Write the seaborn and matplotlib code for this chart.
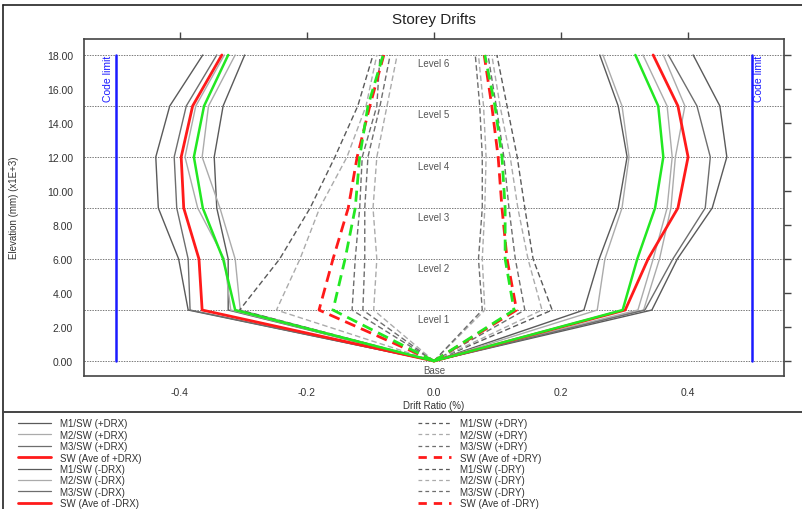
import matplotlib
matplotlib.use("Agg")
import matplotlib.pyplot as plt
from matplotlib.lines import Line2D
import seaborn as sns
import pandas as pd

sns.set_style("white")
plt.rcParams['font.family'] = ['Liberation Sans', 'DejaVu Sans']

# ---------------- data ----------------
elevation = [0, 3, 6, 9, 12, 15, 18]          # x1E+3 mm
level_labels = ["Base", "Level 1", "Level 2", "Level 3", "Level 4", "Level 5", "Level 6"]
xticks = [-0.4, -0.2, 0.0, 0.2, 0.4]
yticks = [0, 2, 4, 6, 8, 10, 12, 14, 16, 18]
code_limit = 0.5

# +DRX (solid, right side)
m1_pdrx = [0, 0.343, 0.383, 0.438, 0.461, 0.450, 0.408]
m2_pdrx = [0, 0.321, 0.345, 0.367, 0.375, 0.367, 0.329]
m3_pdrx = [0, 0.332, 0.376, 0.427, 0.435, 0.414, 0.369]
ave_pdrx = [0, 0.301, 0.337, 0.384, 0.400, 0.384, 0.345]
# -DRX (solid, left side)
m1_ndrx = [0, -0.387, -0.402, -0.434, -0.438, -0.416, -0.364]
m2_ndrx = [0, -0.305, -0.313, -0.337, -0.365, -0.355, -0.313]
m3_ndrx = [0, -0.384, -0.387, -0.405, -0.409, -0.390, -0.342]
ave_ndrx = [0, -0.365, -0.370, -0.394, -0.398, -0.380, -0.334]
# +DRY (dashed, right of centre)
m1_pdry = [0, 0.186, 0.156, 0.143, 0.131, 0.115, 0.099]
m2_pdry = [0, 0.170, 0.148, 0.132, 0.120, 0.104, 0.091]
m3_pdry = [0, 0.076, 0.070, 0.076, 0.076, 0.072, 0.065]
ave_pdry = [0, 0.130, 0.115, 0.107, 0.101, 0.091, 0.079]
# -DRY (dashed, left of centre)
m1_ndry = [0, -0.306, -0.243, -0.195, -0.156, -0.120, -0.096]
m2_ndry = [0, -0.248, -0.211, -0.180, -0.137, -0.107, -0.090]
m3_ndry = [0, -0.129, -0.124, -0.117, -0.113, -0.090, -0.085]
ave_ndry = [0, -0.181, -0.159, -0.135, -0.121, -0.101, -0.079]

# other (unlabelled) profiles
oth_pdrx_a = [0, 0.236, 0.260, 0.290, 0.304, 0.290, 0.261]
oth_pdrx_b = [0, 0.257, 0.269, 0.296, 0.307, 0.296, 0.266]
oth_pdrx_c = [0, 0.330, 0.355, 0.373, 0.380, 0.395, 0.361]
grn_pdrx = [0, 0.297, 0.320, 0.348, 0.361, 0.353, 0.317]
oth_ndrx_a = [0, -0.324, -0.324, -0.342, -0.346, -0.332, -0.298]
oth_ndrx_b = [0, -0.320, -0.330, -0.372, -0.392, -0.375, -0.330]
grn_ndrx = [0, -0.313, -0.332, -0.364, -0.378, -0.362, -0.324]
oth_pdry_a = [0, 0.143, 0.128, 0.118, 0.110, 0.098, 0.085]
oth_pdry_b = [0, 0.080, 0.076, 0.080, 0.082, 0.078, 0.070]
grn_pdry = [0, 0.126, 0.112, 0.112, 0.107, 0.096, 0.080]
oth_ndry_a = [0, -0.112, -0.109, -0.109, -0.104, -0.085, -0.069]
oth_ndry_b = [0, -0.095, -0.090, -0.096, -0.090, -0.074, -0.058]
grn_ndry = [0, -0.159, -0.140, -0.124, -0.117, -0.104, -0.080]

DARK, LIGHT, MID = "#5a5a5a", "#ababab", "#6e6e6e"
RED, GREEN = "#ff1a1a", "#22e822"
DASH = (0, (4, 2.2))

series = [
    ("M1/SW (+DRX)", m1_pdrx, DARK, 1.0, "-"),
    ("M2/SW (+DRX)", m2_pdrx, LIGHT, 1.0, "-"),
    ("M3/SW (+DRX)", m3_pdrx, MID, 1.0, "-"),
    ("SW (Ave of +DRX)", ave_pdrx, RED, 2.0, "-"),
    ("M1/SW (-DRX)", m1_ndrx, DARK, 1.0, "-"),
    ("M2/SW (-DRX)", m2_ndrx, LIGHT, 1.0, "-"),
    ("M3/SW (-DRX)", m3_ndrx, MID, 1.0, "-"),
    ("SW (Ave of -DRX)", ave_ndrx, RED, 2.0, "-"),
    ("M1/SW (+DRY)", m1_pdry, DARK, 1.0, DASH),
    ("M2/SW (+DRY)", m2_pdry, LIGHT, 1.0, DASH),
    ("M3/SW (+DRY)", m3_pdry, MID, 1.0, DASH),
    ("SW (Ave of +DRY)", ave_pdry, RED, 2.0, DASH),
    ("M1/SW (-DRY)", m1_ndry, DARK, 1.0, DASH),
    ("M2/SW (-DRY)", m2_ndry, LIGHT, 1.0, DASH),
    ("M3/SW (-DRY)", m3_ndry, MID, 1.0, DASH),
    ("SW (Ave of -DRY)", ave_ndry, RED, 2.0, DASH),
]
others = [
    (oth_pdrx_a, DARK, 1.0, "-"), (oth_pdrx_b, LIGHT, 1.0, "-"), (oth_pdrx_c, LIGHT, 1.0, "-"),
    (oth_ndrx_a, DARK, 1.0, "-"), (oth_ndrx_b, LIGHT, 1.0, "-"),
    (oth_pdry_a, MID, 1.0, DASH), (oth_pdry_b, LIGHT, 1.0, DASH),
    (oth_ndry_a, MID, 1.0, DASH), (oth_ndry_b, LIGHT, 1.0, DASH),
    (grn_pdrx, GREEN, 1.8, "-"), (grn_ndrx, GREEN, 1.8, "-"),
    (grn_pdry, GREEN, 2.0, DASH), (grn_ndry, GREEN, 2.0, DASH),
]

# ---------------- figure ----------------
fig = plt.figure(figsize=(8.02, 5.10), dpi=100)
ax = fig.add_axes([84/802, 1-377/510, 700/802, 337/510])

for e in elevation:
    ax.axhline(e, color="#7a7a7a", lw=0.7, ls=(0, (1.5, 1.2)), zorder=1)

def draw(vals, color, lw, ls):
    df = pd.DataFrame({"drift": vals, "elev": elevation})
    sns.lineplot(data=df, x="drift", y="elev", sort=False, estimator=None,
                 color=color, lw=lw, linestyle=ls, ax=ax, legend=False,
                 zorder=3 if color in (RED, GREEN) else 2)

for vals, c, lw, ls in others[:9]:
    draw(vals, c, lw, ls)
handles = []
for lab, vals, c, lw, ls in series:
    draw(vals, c, lw, ls)
    hls = (0, (3, 2.5)) if ls == DASH else ls
    handles.append(Line2D([], [], color=c, lw=lw if lw > 1 else 0.9, linestyle=hls, label=lab))
for vals, c, lw, ls in others[9:]:
    draw(vals, c, lw, ls)

# code limits
for s in (-1, 1):
    ax.plot([s*code_limit, s*code_limit], [0, 18], color="#1a1aff", lw=1.8, zorder=3)
ax.text(-code_limit - 0.006, 18, "Code limit", rotation=90, color="#1a1aff",
        ha="right", va="top", fontsize=7.5)
ax.text(code_limit + 0.004, 18, "Code limit", rotation=90, color="#1a1aff",
        ha="left", va="top", fontsize=7.5)

for e, lab in zip(elevation, level_labels):
    ax.text(0.0, e - 0.5, lab, ha="center", va="center", fontsize=7, color="#555555", zorder=4)

ax.set_xlim(-0.551, 0.551)
ax.set_ylim(-0.88, 18.94)
ax.set_xticks(xticks)
ax.set_xticklabels(["-0.4", "-0.2", "0.0", "0.2", "0.4"])
ax.set_yticks(yticks)
ax.set_yticklabels([f"{v:.2f}" for v in yticks])
ax.tick_params(axis="both", direction="out", length=5, width=1, color="#444444",
               labelsize=7.5, labelcolor="#333333", top=True, right=True,
               labeltop=False, labelright=False, pad=3)
for sp in ax.spines.values():
    sp.set_color("#444444")
    sp.set_linewidth(1.2)
ax.set_xlabel("Drift Ratio (%)", fontsize=7, color="#333333", labelpad=2)
ax.set_ylabel("")
fig.text(14/802, 1-208/510, "Elevation (mm) (x1E+3)", rotation=90, ha="center", va="center",
         fontsize=7, color="#333333")

fig.text(434/802, 1-20/510, "Storey Drifts", ha="center", va="center", fontsize=11, color="#222222")

# legends
leg_kw = dict(frameon=False, fontsize=7.0, handlelength=3.35, handletextpad=0.97,
              labelspacing=0.14, borderpad=0, borderaxespad=0, loc="upper left")
leg1 = fig.legend(handles=handles[:8], bbox_to_anchor=(18/802, 1-419.5/510), **leg_kw)
leg2 = fig.legend(handles=handles[8:], bbox_to_anchor=(418/802, 1-419.5/510), **leg_kw)
for lg in (leg1, leg2):
    for t in lg.get_texts():
        t.set_color("#333333")

# outer frame lines (left, top) and separator
fig.add_artist(Line2D([3/802, 3/802], [0, 1-6/510], transform=fig.transFigure, color="#222222", lw=1.2))
fig.add_artist(Line2D([3/802, 1], [1-6/510, 1-6/510], transform=fig.transFigure, color="#222222", lw=1.2))
fig.add_artist(Line2D([3/802, 1], [1-413/510, 1-413/510], transform=fig.transFigure,
                      color="#444444", lw=1.4))

fig.savefig("out.png", dpi=100)
